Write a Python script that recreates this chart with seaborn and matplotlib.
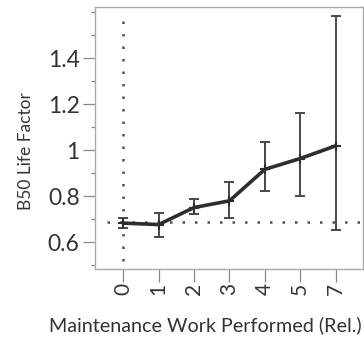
import matplotlib
matplotlib.use("Agg")
import matplotlib.pyplot as plt
import seaborn as sns
import pandas as pd
import numpy as np
from matplotlib.ticker import MultipleLocator

# Relative maintenance work levels (categorical) and B50 life factor estimates
work_levels = ["0", "1", "2", "3", "4", "5", "7"]
b50_factor = [0.683, 0.677, 0.751, 0.780, 0.917, 0.964, 1.019]
ci_lower = [0.662, 0.623, 0.722, 0.707, 0.822, 0.800, 0.655]
ci_upper = [0.704, 0.727, 0.787, 0.860, 1.036, 1.162, 1.583]
baseline = 0.687

sns.set_theme(style="white")
plt.rcParams["font.family"] = ["Lato", "DejaVu Sans"]

df = pd.DataFrame({
    "level": work_levels,
    "pos": np.arange(len(work_levels)),
    "b50": b50_factor,
    "lo": ci_lower,
    "hi": ci_upper,
})

fig = plt.figure(figsize=(3.64, 3.39), dpi=100)
ax = fig.add_axes([0.261, 0.206, 0.736, 0.773])

line_col = "#2e2e2e"
ax.errorbar(df["pos"], df["b50"],
            yerr=[df["b50"] - df["lo"], df["hi"] - df["b50"]],
            fmt="none", ecolor="#484848", elinewidth=1.4, capsize=3.5,
            capthick=1.4, zorder=2)
sns.lineplot(data=df, x="pos", y="b50", ax=ax, color=line_col,
             linewidth=2.6, marker="+", markersize=7, markeredgewidth=1.5,
             markeredgecolor=line_col, zorder=3)

# Reference lines: baseline factor and zero-maintenance level
ax.plot([-0.46, 6.77], [baseline, baseline], linestyle=(0, (1, 4)),
        color="#505050", linewidth=1.8, zorder=1)
ax.plot([0, 0], [0.517, 1.56], linestyle=(0, (1, 4)),
        color="#505050", linewidth=1.8, zorder=1)

ax.set_xlim(-0.8, 6.77)
ax.set_ylim(0.483, 1.622)
ax.set_xticks(df["pos"])
ax.set_xticklabels(work_levels, rotation=90, fontsize=15, color="#333333")
ax.yaxis.set_minor_locator(MultipleLocator(0.1))
ax.set_yticks([0.6, 0.8, 1.0, 1.2, 1.4])
ax.set_yticklabels(["0.6", "0.8", "1", "1.2", "1.4"], fontsize=16.5,
                   color="#333333")
ax.tick_params(axis="both", which="major", direction="out", length=9,
               width=0.9, color="#888888", left=True, bottom=True, pad=2)
ax.tick_params(axis="x", which="major", pad=1)
ax.tick_params(axis="y", which="minor", direction="out", length=3,
               width=0.9, color="#888888", left=True)

for side in ["left", "right", "top", "bottom"]:
    ax.spines[side].set_color("#aaaaaa")
    ax.spines[side].set_linewidth(1.0)

ax.set_xlabel("Maintenance Work Performed (Rel.)", fontsize=14.2,
              color="#333333")
ax.xaxis.set_label_coords(0.41, -0.178)
ax.set_ylabel("B50 Life Factor", fontsize=12.5, color="#333333")
ax.yaxis.set_label_coords(-0.228, 0.45)

fig.savefig("out.png", dpi=100)
